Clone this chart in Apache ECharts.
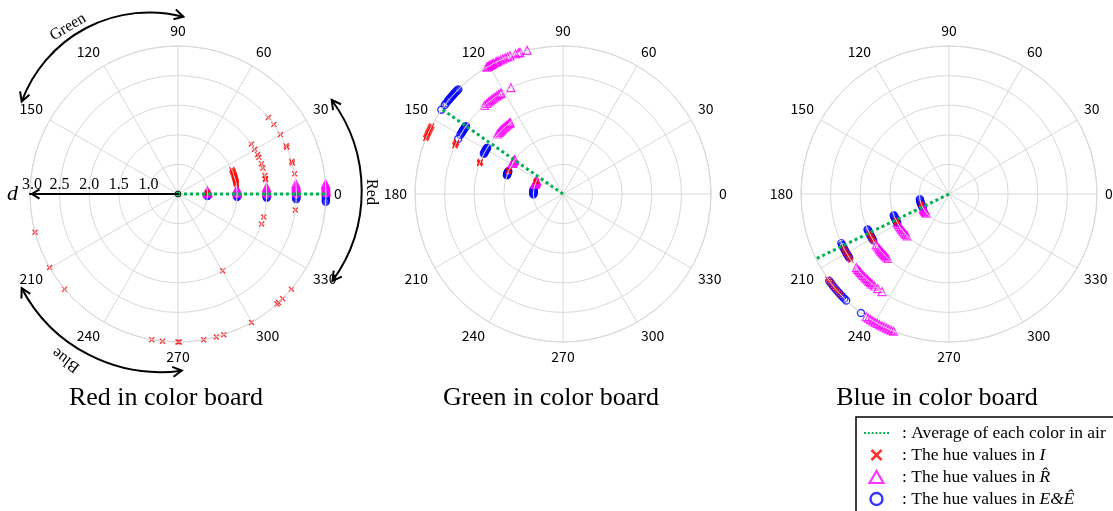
<!DOCTYPE html>
<html><head><meta charset="utf-8">
<script src="https://cdn.jsdelivr.net/npm/echarts@6/dist/echarts.min.js"></script>
<style>html,body{margin:0;padding:0;background:#fff}#c{width:1113px;height:511px}</style>
</head><body><div id="c"></div>
<script>
// ---------------- data ----------------
const plotTitles = ['Red in color board', 'Green in color board', 'Blue in color board'];
const distances = [1.0, 1.5, 2.0, 2.5, 3.0];          // d values of the measurement rings
const radiusRange = [0.5, 3.0];
const avgHue = [0, 145, 206];                          // average hue of each colour in air

// hue values (deg) per distance index (1.0, 1.5, 2.0, 2.5, 3.0)
const redBoardI = [
  [1.5, 2.5, 3.5],
  [9.5, 10.5, 11, 12, 12.5, 13.5, 14, 15, 16, 16.5, 17.5, 18, 19, 20, 21.5, 22, 23, 24.5],
  [9.3, 10, 12, 17, 20, 24.4, 26.4, 30.2, 34.3, 300.2, 340.2, 345],
  [9.8, 15.2, 16, 23.3, 24, 30.1, 35.9, 40.2, 352.2],
  [195, 209.8, 220, 259.8, 264, 270, 270.5, 280, 285, 288, 299.8, 312, 312.8, 315, 320]
];
const redBoardR = [
  [1, 2, 3, 4, 5, 6],
  [0.5, 1.5, 2.5, 3, 4, 5],
  [0.5, 1, 1.5, 2.5, 3, 3.5, 4.5],
  [0.5, 1, 2, 2.5, 3, 3.5, 4, 5],
  [0.5, 1, 1.5, 2, 2.5, 3, 3.5, 4]
];
const redBoardE = [
  [356, 357.5, 359],
  [357, 358, 359, 359.5],
  [357.5, 358, 358.5, 359.5],
  [357.5, 358, 358.5, 359, 359.5],
  [357, 357.5, 358, 358.5, 359, 359.5]
];
const greenBoardI = [
  [154, 155, 156],
  [156, 157, 157.5],
  [158.5, 159, 159.5, 160],
  [154, 154.5, 155, 155.5, 156],
  [152.5, 153, 153.5, 154, 154.5, 155, 155.5, 156, 156.5, 157, 157.5, 158]
];
const greenBoardR = [
  [153, 154.5, 155, 156.5, 157, 158, 159, 160, 161],
  [144.5, 145.5, 146, 147, 148, 149],
  [126.5, 127, 128, 129, 130, 131, 132, 133, 134, 135, 136, 137.5],
  [116.1, 121.5, 122, 123, 124, 125, 126, 127, 128, 129, 130, 131.5],
  [104, 106.9, 107.5, 108.7, 111, 112, 113, 114, 115, 116, 116.5, 117, 118, 118.5, 119, 119.5, 120, 120.5, 121]
];
const greenBoardE = [
  [170, 171.5, 173, 174, 175.5, 177, 178, 179.5, 181],
  [157.5, 158, 158.5, 159, 159.5, 160, 160.5, 161, 161.5],
  [148.5, 149, 149.5, 150, 150.5, 151, 151.5, 152, 152.5, 153],
  [145, 145.5, 146, 146.5, 147, 147.5, 148, 148.5, 149, 150, 152.2],
  [135, 135.5, 136, 136.5, 137, 137.5, 138, 138.5, 139, 139.5, 140, 140.5, 141, 142, 143, 145.3]
];
const blueBoardI = [
  [199, 201, 203],
  [206, 207, 208, 209],
  [206, 207, 208, 209, 210, 211, 212],
  [207, 208, 209, 210, 211, 212, 213, 214],
  [215, 216, 217, 218, 219, 220, 221, 222, 223]
];
const blueBoardR = [
  [210, 212, 214, 216, 218, 220],
  [209, 211, 213, 215, 217, 219, 221, 223, 225],
  [215, 216.5, 218, 219, 220, 221, 222, 223, 224, 225, 226.5],
  [218.5, 219.5, 220.5, 221.5, 222.5, 223.5, 224.5, 225.5, 226.5, 227.5, 228.5, 229.5, 231, 233, 235.5],
  [236, 237, 238, 239, 240, 241, 242, 243, 244, 245, 246, 247, 248]
];
const blueBoardE = [
  [190, 192, 194, 196, 198, 200, 202, 204, 206, 208],
  [201, 202, 203, 204, 205, 206, 207, 208, 209],
  [203.5, 204, 205, 206, 207, 208, 209, 210, 211.5],
  [204.5, 205.5, 206, 207, 208, 209, 210, 211, 212, 212.5],
  [216, 217, 218, 219, 220, 221, 222, 223, 224, 225, 226, 233.5]
];
const legendNames = ['avg', 'I', 'R', 'E'];
const legendTexts = {
  avg: ': Average of each color in air',
  I: ': The hue values in {i|I}',
  R: ': The hue values in {i|R\u0302}',
  E: ': The hue values in {i|E&E\u0302}'
};

// ---------------- chart ----------------
const SERIF = "'Times New Roman','Liberation Serif',serif";
const SANS = "'Noto Sans CJK JP','Liberation Sans',sans-serif";
const centers = [[178, 194], [563, 194], [949, 194]];
const R = 148;
const boards = [
  {I: redBoardI, R: redBoardR, E: redBoardE},
  {I: greenBoardI, R: greenBoardR, E: greenBoardE},
  {I: blueBoardI, R: blueBoardR, E: blueBoardE}
];
const toAxis = h => (h > 180 ? h - 360 : h);
function pairs(byD) {
  const out = [];
  byD.forEach((hs, i) => hs.forEach(h => out.push([distances[i], toAxis(h)])));
  return out;
}
const CROSS = 'path://M0,1.6L1.6,0L5,3.4L8.4,0L10,1.6L6.6,5L10,8.4L8.4,10L5,6.6L1.6,10L0,8.4L3.4,5Z';
const CHEVRON = 'path://M5,0L10,8.2L8.5,9.2L5,3.4L1.5,9.2L0,8.2Z';
const TRI_ICON = 'path://M5,0L10,8.66L0,8.66Z';
const DOTS_ICON = 'path://M0,0L2,0L2,2L0,2ZM4,0L6,0L6,2L4,2ZM8,0L10,0L10,2L8,2ZM12,0L14,0L14,2L12,2ZM16,0L18,0L18,2L16,2ZM20,0L22,0L22,2L20,2ZM24,0L26,0L26,2L24,2Z';

const polar = [], angleAxis = [], radiusAxis = [], series = [];
centers.forEach((c, p) => {
  const first = p === 0;
  polar.push({center: c, radius: R});
  angleAxis.push({
    polarIndex: p, type: 'value', min: -180, max: 180, interval: 30, startAngle: 180, clockwise: false,
    axisLine: {show: true, lineStyle: {color: '#d9d9d9', width: 1}},
    axisTick: {show: false},
    splitLine: {show: true, lineStyle: {color: '#d9d9d9', width: 1}},
    axisLabel: {show: true, margin: 8, color: '#000', fontSize: 14, fontFamily: SANS,
      formatter: v => {
        const h = ((v % 360) + 360) % 360;
        return (first && h === 180) ? '' : String(h);
      }}
  });
  radiusAxis.push({
    polarIndex: p, type: 'value', min: radiusRange[0], max: radiusRange[1], interval: 0.5,
    name: first ? 'd' : '', nameLocation: 'end', nameGap: 6,
    nameTextStyle: {fontFamily: SERIF, fontStyle: 'italic', fontSize: 22, color: '#000', padding: [0, 0, 3, 0]},
    axisLine: {show: first, symbol: ['none', CHEVRON], symbolSize: [11, 11], symbolOffset: [0, -5],
      lineStyle: {color: '#000', width: 2}},
    axisTick: {show: false},
    splitLine: {show: true, lineStyle: {color: '#d9d9d9', width: 1}},
    axisLabel: {show: first, showMinLabel: false, margin: -1, verticalAlign: 'bottom',
      fontFamily: SERIF, fontSize: 16, color: '#000',
      formatter: v => (v === radiusRange[1] ? '{a|' + v.toFixed(1) + '}' : v.toFixed(1)),
      rich: {a: {fontFamily: SERIF, fontSize: 16, color: '#000', padding: [0, 0, 0, 4]}}},
    z: 10
  });
  const b = boards[p];
  series.push({
    name: 'E', type: 'scatter', coordinateSystem: 'polar', polarIndex: p,
    symbol: 'circle', symbolSize: 7, data: pairs(b.E), z: 2,
    itemStyle: {color: 'rgba(255,255,255,0)', borderColor: '#0000ff', borderWidth: 1.4}
  });
  series.push({
    name: 'R', type: 'scatter', coordinateSystem: 'polar', polarIndex: p,
    symbol: 'triangle', symbolSize: 8, data: pairs(b.R), z: 3,
    itemStyle: {color: 'rgba(255,255,255,0)', borderColor: '#ff00ff', borderWidth: 1.2}
  });
  series.push({
    name: 'I', type: 'scatter', coordinateSystem: 'polar', polarIndex: p,
    symbol: CROSS, symbolSize: 6, symbolKeepAspect: true, data: pairs(b.I), z: 4,
    itemStyle: {color: '#ff0000'}
  });
  const a = toAxis(avgHue[p]);
  series.push({
    name: 'avg', type: 'line', coordinateSystem: 'polar', polarIndex: p,
    data: [[radiusRange[0], a], [radiusRange[1], a]], symbol: 'none', z: 5,
    lineStyle: {color: '#00b050', width: 3, type: 'dotted'}, itemStyle: {color: '#00b050'}
  });
  if (first) series.push({
    name: 'origin', type: 'scatter', coordinateSystem: 'polar', polarIndex: p,
    data: [[radiusRange[0], a]], symbol: 'circle', symbolSize: 6, z: 6,
    itemStyle: {color: '#00b050', borderColor: '#000', borderWidth: 1}
  });
});

// decorative arcs with arrows around the first plot
const arcs = [
  {cx: 149.5, cy: 148.6, r: 136.2, a0: -159.8, a1: -75.6},   // Green
  {cx: 208.7, cy: 191.0, r: 153.0, a0: -36.5, a1: 36.0},     // Red
  {cx: 160.5, cy: 215.3, r: 156.8, a0: 82.2, a1: 152.3}      // Blue
];
const graphic = [];
const rad = a => a * Math.PI / 180;
function chevron(px, py, tx, ty) {
  const L = 9, W = 5, nx = -ty, ny = tx;
  return {type: 'polyline', shape: {points: [[px - L * tx + W * nx, py - L * ty + W * ny], [px, py], [px - L * tx - W * nx, py - L * ty - W * ny]]},
    style: {stroke: '#000', lineWidth: 2, fill: null}, z: 20};
}
arcs.forEach(a => {
  graphic.push({type: 'arc', shape: {cx: a.cx, cy: a.cy, r: a.r, startAngle: rad(a.a0), endAngle: rad(a.a1), clockwise: true},
    style: {stroke: '#000', lineWidth: 2, fill: null}, z: 20});
  const s = rad(a.a0), e = rad(a.a1);
  graphic.push(chevron(a.cx + a.r * Math.cos(s), a.cy + a.r * Math.sin(s), Math.sin(s), -Math.cos(s)));
  graphic.push(chevron(a.cx + a.r * Math.cos(e), a.cy + a.r * Math.sin(e), -Math.sin(e), Math.cos(e)));
});
const arcLabels = [
  {t: 'Green', x: 68, y: 27, rot: 31},
  {t: 'Red', x: 371, y: 192, rot: -90},
  {t: 'Blue', x: 66, y: 360, rot: 143}
];
arcLabels.forEach(l => graphic.push({type: 'text', x: l.x, y: l.y, rotation: rad(l.rot), z: 20,
  style: {text: l.t, font: '16px ' + SERIF, fill: '#000', align: 'center', verticalAlign: 'middle'}}));
const titleX = [166, 551, 937];
plotTitles.forEach((t, i) => graphic.push({type: 'text', x: titleX[i], y: 398, z: 20,
  style: {text: t, font: '26px ' + SERIF, fill: '#000', align: 'center', verticalAlign: 'middle'}}));

const chart = echarts.init(document.getElementById('c'), null, {renderer: 'canvas'});
chart.setOption({
  animation: false,
  backgroundColor: '#fff',
  polar, angleAxis, radiusAxis, series, graphic,
  legend: {
    data: [
      {name: 'avg', icon: DOTS_ICON, itemStyle: {color: '#00b050', borderWidth: 0}},
      {name: 'I'},
      {name: 'R', icon: TRI_ICON, itemStyle: {borderWidth: 2.2}},
      {name: 'E', itemStyle: {borderWidth: 2.4}}
    ],
    orient: 'vertical', left: 856, top: 417, width: 300, height: 200,
    itemWidth: 25, itemHeight: 12, itemGap: 4,
    symbolKeepAspect: true,
    padding: [7, 24, 24, 8], borderColor: '#000', borderWidth: 1.5, selectedMode: false,
    formatter: n => legendTexts[n],
    textStyle: {fontFamily: SERIF, fontSize: 17.5, color: '#000', padding: [0, 0, 0, 8],
      rich: {i: {fontFamily: SERIF, fontStyle: 'italic', fontSize: 17.5, color: '#000'}}}
  }
});
</script></body></html>
